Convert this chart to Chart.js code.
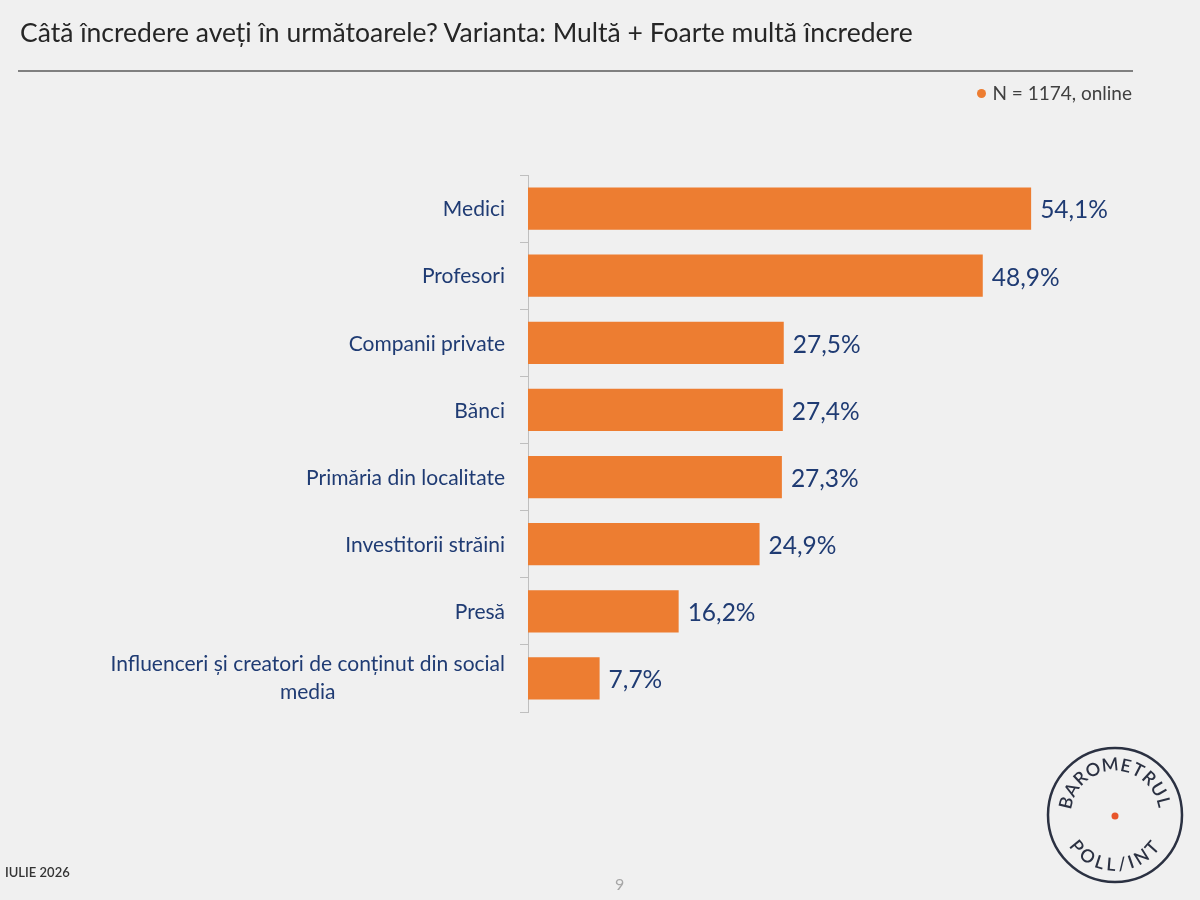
<!DOCTYPE html>
<html lang="ro">
<head>
<meta charset="utf-8">
<script src="https://cdn.jsdelivr.net/npm/chart.js@4.4.1/dist/chart.umd.min.js"></script>
<style>
  html, body { margin: 0; padding: 0; background: #f0f0f0; }
  #wrap { position: relative; width: 1200px; height: 900px; overflow: hidden; background: #f0f0f0; font-family: Lato, "Open Sans", sans-serif; }
  #c { position: absolute; left: 0; top: 0; }
  #title { position: absolute; left: 20px; top: 16px; font-size: 26.5px; color: #262626; white-space: nowrap; }
  #rule { position: absolute; left: 18px; top: 70px; width: 1115px; height: 2px; background: #808080; }
  #legend { position: absolute; right: 68px; top: 81px; font-size: 19px; color: #404040; white-space: nowrap; }
  #legend .dot { display: inline-block; width: 9px; height: 9px; border-radius: 50%; background: #ED7D31; margin-right: 6px; vertical-align: 2px; }
  #date { position: absolute; left: 5px; top: 864px; font-size: 13px; color: #333; font-weight: 600; }
  #page { position: absolute; left: 615px; top: 874px; font-size: 16px; color: #a6a6a6; }
</style>
</head>
<body>
<div id="wrap">
  <canvas id="c" width="1200" height="900"></canvas>
  <div id="title">Câtă încredere aveți în următoarele? Varianta: Multă + Foarte multă încredere</div>
  <div id="rule"></div>
  <div id="legend"><span class="dot"></span>N = 1174, online</div>
  <div id="date">IULIE 2026</div>
  <div id="page">9</div>
</div>
<script>
const categories = [
  "Medici",
  "Profesori",
  "Companii private",
  "Bănci",
  "Primăria din localitate",
  "Investitorii străini",
  "Presă",
  ["Influenceri și creatori de conținut din social", "media"]
];
const values = [54.1, 48.9, 27.5, 27.4, 27.3, 24.9, 16.2, 7.7];
const valueLabels = ["54,1%", "48,9%", "27,5%", "27,4%", "27,3%", "24,9%", "16,2%", "7,7%"];
const logoTop = "BAROMETRUL";
const logoBottom = "POLL/INT";

const FONT = 'Lato, "Open Sans", sans-serif';
const NAVY = '#1F3B73';
const ORANGE = '#ED7D31';

function arcText(ctx, text, cx, cy, r, startDeg, endDeg, outward) {
  const widths = Array.from(text).map(ch => ctx.measureText(ch).width);
  const gap = 4;
  const total = widths.reduce((a, b) => a + b, 0) + gap * (text.length - 1);
  const span = endDeg - startDeg;
  let acc = 0;
  for (let i = 0; i < text.length; i++) {
    const mid = acc + widths[i] / 2;
    acc += widths[i] + gap;
    const a = (startDeg + span * mid / total) * Math.PI / 180;
    ctx.save();
    ctx.translate(cx + r * Math.cos(a), cy + r * Math.sin(a));
    ctx.rotate(outward ? a + Math.PI / 2 : a - Math.PI / 2);
    ctx.fillText(text[i], 0, 0);
    ctx.restore();
  }
}

const labelPlugin = {
  id: 'customLabels',
  afterDatasetsDraw(chart) {
    const ctx = chart.ctx;
    const yS = chart.scales.y;
    const meta = chart.getDatasetMeta(0);
    ctx.save();
    ctx.font = '24.5px ' + FONT;
    ctx.fillStyle = NAVY;
    ctx.textAlign = 'left';
    ctx.textBaseline = 'middle';
    meta.data.forEach((bar, i) => {
      ctx.fillText(valueLabels[i], bar.x + 9, bar.y + 2);
    });
    ctx.font = '21px ' + FONT;
    const rightX = 505;
    const lh = 28;
    categories.forEach((cat, i) => {
      const y = yS.getPixelForValue(i);
      const lines = Array.isArray(cat) ? cat : [cat];
      const widths = lines.map(l => ctx.measureText(l).width);
      const widest = Math.max(...widths);
      const cx = rightX - widest / 2;
      const y0 = y - (lines.length - 1) * lh / 2;
      lines.forEach((l, k) => {
        if (lines.length === 1) {
          ctx.textAlign = 'right';
          ctx.fillText(l, rightX, y0 + 1);
        } else {
          ctx.textAlign = 'center';
          ctx.fillText(l, cx, y0 + k * lh);
        }
      });
    });
    ctx.restore();
  },
  afterDraw(chart) {
    const ctx = chart.ctx;
    const cx = 1115, cy = 815, R = 67;
    ctx.save();
    ctx.strokeStyle = '#2B3142';
    ctx.lineWidth = 2.5;
    ctx.beginPath();
    ctx.arc(cx, cy, R, 0, Math.PI * 2);
    ctx.stroke();
    ctx.fillStyle = '#E8552B';
    ctx.beginPath();
    ctx.arc(cx, cy + 1, 3.5, 0, Math.PI * 2);
    ctx.fill();
    ctx.fillStyle = '#2B3142';
    ctx.font = '600 18px ' + FONT;
    ctx.textAlign = 'center';
    ctx.textBaseline = 'middle';
    arcText(ctx, logoTop, cx, cy, 50, -172, -10, true);
    arcText(ctx, logoBottom, cx, cy, 50, 146, 36, false);
    ctx.restore();
  }
};

new Chart(document.getElementById('c'), {
  type: 'bar',
  data: {
    labels: categories,
    datasets: [{
      data: values,
      backgroundColor: ORANGE,
      borderWidth: 0,
      barPercentage: 0.9,
      categoryPercentage: 0.7
    }]
  },
  options: {
    indexAxis: 'y',
    responsive: false,
    animation: false,
    devicePixelRatio: 1,
    layout: { padding: { top: 175, bottom: 188, right: 114, left: 0 } },
    plugins: { legend: { display: false }, tooltip: { enabled: false }, title: { display: false } },
    scales: {
      x: {
        display: false,
        min: 0,
        max: 60
      },
      y: {
        position: 'left',
        afterFit(scale) { scale.width = 528; },
        border: { display: true, color: '#BFBFBF', width: 1 },
        grid: { drawOnChartArea: false, drawTicks: true, tickLength: 8, color: '#BFBFBF', offset: true },
        ticks: { color: 'rgba(0,0,0,0)', font: { size: 21, family: FONT }, padding: 14 }
      }
    }
  },
  plugins: [labelPlugin]
});
</script>
</body>
</html>
